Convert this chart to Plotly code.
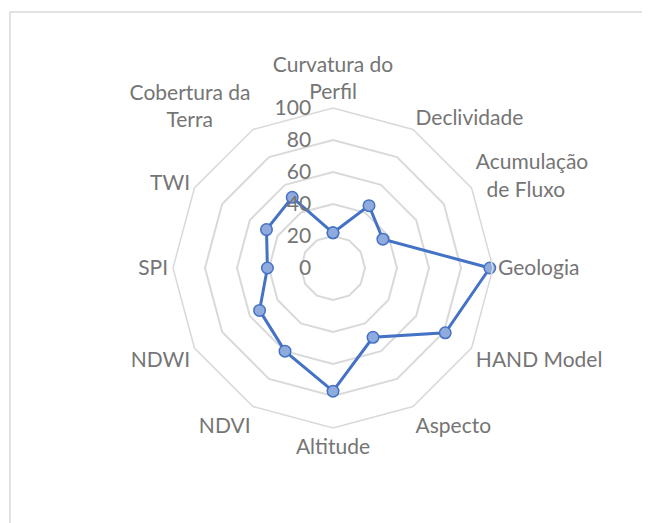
import plotly.graph_objects as go

categories = ["Curvatura do Perfil", "Declividade", "Acumulação de Fluxo", "Geologia",
              "HAND Model", "Aspecto", "Altitude", "NDVI", "NDWI", "SPI", "TWI",
              "Cobertura da Terra"]
category_labels = ["Curvatura do<br>Perfil", "Declividade", "Acumulação<br>&nbsp;&nbsp;de Fluxo",
                   "Geologia", "HAND Model", "Aspecto", "Altitude", "NDVI", "NDWI", "SPI",
                   "TWI", "Cobertura da<br>Terra" + "&nbsp;" * 7]
values = [22, 45, 36, 98, 81, 50, 77, 60, 53, 41, 48, 51]
radial_ticks = [0, 20, 40, 60, 80, 100]

W, H = 650, 523
OFF = 8  # page body margin
cx, cy, R = 333 - OFF, 268 - OFF, 160

fig = go.Figure()
fig.add_trace(go.Scatterpolar(
    r=values + values[:1], theta=categories + categories[:1],
    mode="lines+markers",
    line=dict(color="#4472C4", width=3),
    marker=dict(size=11.5, color="#8FAADC", line=dict(color="#4472C4", width=1.5)),
    showlegend=False, hoverinfo="r+theta"))

fig.update_layout(
    width=W, height=H,
    margin=dict(l=0, r=0, t=0, b=0),
    paper_bgcolor="white", plot_bgcolor="white",
    font=dict(family="Lato, Carlito, Calibri, sans-serif", color="#757575", size=21),
    polar=dict(
        domain=dict(x=[(cx - R) / W, (cx + R) / W], y=[1 - (cy + R) / H, 1 - (cy - R) / H]),
        bgcolor="white",
        gridshape="linear",
        angularaxis=dict(direction="clockwise", rotation=90, showgrid=False,
                         showline=True, linecolor="#D9D9D9", linewidth=1.5,
                         ticks="", tickfont=dict(size=21, color="#757575"),
                         categoryorder="array", categoryarray=categories,
                         tickvals=categories, ticktext=category_labels),
        radialaxis=dict(range=[0, 100], tickvals=radial_ticks, angle=90, tickangle=90,
                        showline=False, gridcolor="#D9D9D9", gridwidth=1.5,
                        ticks="outside", ticklen=14, tickcolor="rgba(0,0,0,0)",
                        side="counterclockwise",
                        tickfont=dict(size=21, color="#757575")),
    ),
    shapes=[dict(type="rect", xref="paper", yref="paper",
                 x0=(10 - OFF) / W, x1=1.05, y0=-0.05, y1=1 - (12 - OFF) / H,
                 line=dict(color="#D9D9D9", width=1.5), fillcolor="rgba(0,0,0,0)")],
)

fig.write_html("out.html")
